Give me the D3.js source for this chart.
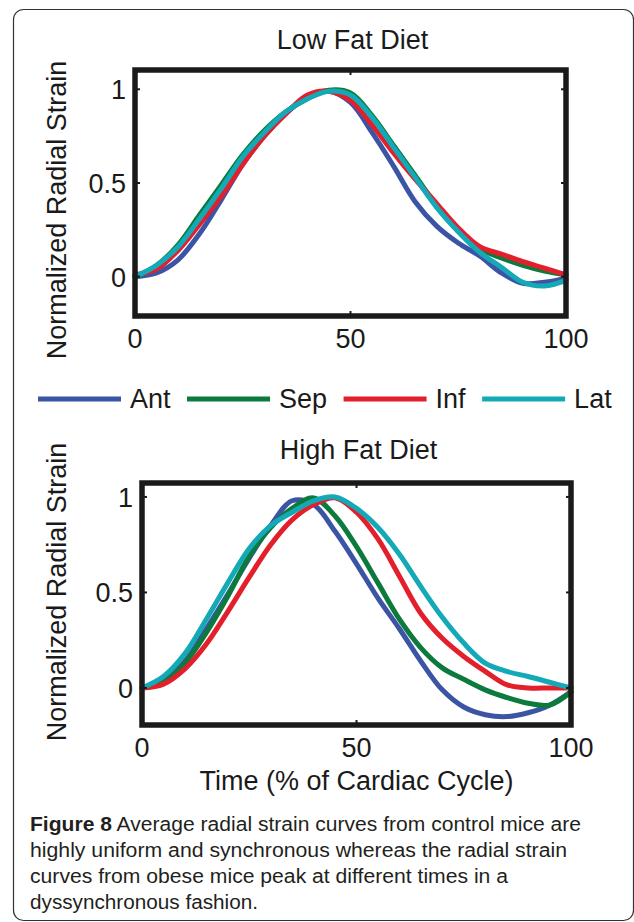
<!DOCTYPE html>
<html>
<head>
<meta charset="utf-8">
<script src="https://cdn.jsdelivr.net/npm/d3@7"></script>
<style>
  body { margin: 0; background: #fff; }
  svg { display: block; }
</style>
</head>
<body>
<svg width="634" height="922"></svg>
<script>
// data (time in % of cardiac cycle)
var timePct = [0, 5, 10, 15, 20, 25, 30, 35, 40, 45, 50, 55, 60, 65, 70, 75, 80, 85, 90, 95, 100];
var seriesNames = ["Ant", "Sep", "Inf", "Lat"];
var seriesColors = ["#3b54a4", "#0c7a3d", "#e41f2c", "#13a9b6"];

// Low Fat Diet
var lowAnt = [0, 0.02, 0.09, 0.23, 0.41, 0.60, 0.75, 0.87, 0.96, 0.99, 0.93, 0.77, 0.59, 0.40, 0.27, 0.18, 0.11, 0.02, -0.035, -0.03, -0.01];
var lowSep = [0, 0.06, 0.17, 0.33, 0.49, 0.65, 0.78, 0.88, 0.95, 0.995, 0.98, 0.86, 0.70, 0.54, 0.38, 0.25, 0.15, 0.10, 0.06, 0.03, 0.01];
var lowInf = [0.01, 0.04, 0.14, 0.28, 0.43, 0.60, 0.75, 0.87, 0.97, 0.99, 0.94, 0.81, 0.66, 0.52, 0.39, 0.26, 0.16, 0.12, 0.08, 0.045, 0.01];
var lowLat = [0, 0.06, 0.16, 0.31, 0.47, 0.64, 0.77, 0.88, 0.95, 0.99, 0.97, 0.85, 0.69, 0.53, 0.37, 0.24, 0.13, 0.05, -0.03, -0.05, -0.02];

// High Fat Diet
var highAnt = [0, 0.035, 0.14, 0.31, 0.49, 0.68, 0.85, 0.98, 0.96, 0.82, 0.65, 0.47, 0.31, 0.14, -0.01, -0.10, -0.14, -0.15, -0.13, -0.09, -0.02];
var highSep = [0, 0.03, 0.13, 0.29, 0.48, 0.69, 0.84, 0.94, 0.995, 0.90, 0.74, 0.55, 0.36, 0.21, 0.105, 0.045, -0.01, -0.05, -0.08, -0.09, -0.02];
var highInf = [0, 0.02, 0.10, 0.23, 0.40, 0.58, 0.75, 0.88, 0.96, 0.995, 0.92, 0.78, 0.585, 0.39, 0.26, 0.165, 0.087, 0.017, 0, 0, 0];
var highLat = [0, 0.06, 0.18, 0.36, 0.55, 0.73, 0.85, 0.92, 0.98, 1.0, 0.94, 0.84, 0.70, 0.53, 0.37, 0.235, 0.13, 0.087, 0.06, 0.03, 0];

var xTicks = [0, 50, 100];
var yTicks = [0, 0.5, 1];

var svg = d3.select("svg");
var font = "'Liberation Sans', Arial, Helvetica, sans-serif";
var ink = "#1a1a1a";

// figure box
svg.append("rect")
    .attr("x", 13.5).attr("y", 9.5)
    .attr("width", 620).attr("height", 911)
    .attr("rx", 10)
    .attr("fill", "none")
    .attr("stroke", "#333")
    .attr("stroke-width", 1.2);

function drawPanel(p) {
    var x = d3.scaleLinear().domain([0, 100]).range([p.left, p.right]);
    var y = d3.scaleLinear().domain(p.yDomain).range([p.bottom, p.top]);
    var g = svg.append("g");

    // title
    g.append("text")
        .attr("x", (p.left + p.right) / 2 + 2)
        .attr("y", p.titleY)
        .attr("text-anchor", "middle")
        .attr("font-family", font)
        .attr("font-size", 27)
        .attr("fill", ink)
        .text(p.title);

    // curves
    var line = d3.line()
        .x(function (d) { return x(d[0]); })
        .y(function (d) { return y(d[1]); })
        .curve(d3.curveCatmullRom.alpha(0.5));

    p.series.forEach(function (vals, i) {
        g.append("path")
            .attr("d", line(timePct.map(function (t, j) { return [t, vals[j]]; })))
            .attr("fill", "none")
            .attr("stroke", seriesColors[i])
            .attr("stroke-width", 5)
            .attr("stroke-linejoin", "round")
            .attr("stroke-linecap", "round");
    });

    // ticks inside the box
    xTicks.forEach(function (t) {
        g.append("line").attr("x1", x(t)).attr("x2", x(t))
            .attr("y1", p.bottom).attr("y2", p.bottom - 5)
            .attr("stroke", ink).attr("stroke-width", 2);
        g.append("line").attr("x1", x(t)).attr("x2", x(t))
            .attr("y1", p.top).attr("y2", p.top + 5)
            .attr("stroke", ink).attr("stroke-width", 2);
    });
    yTicks.forEach(function (v) {
        g.append("line").attr("x1", p.left).attr("x2", p.left + 5)
            .attr("y1", y(v)).attr("y2", y(v))
            .attr("stroke", ink).attr("stroke-width", 2);
        g.append("line").attr("x1", p.right).attr("x2", p.right - 5)
            .attr("y1", y(v)).attr("y2", y(v))
            .attr("stroke", ink).attr("stroke-width", 2);
    });

    // frame
    g.append("rect")
        .attr("x", p.left).attr("y", p.top)
        .attr("width", p.right - p.left).attr("height", p.bottom - p.top)
        .attr("fill", "none")
        .attr("stroke", ink)
        .attr("stroke-width", 5.5);

    // tick labels
    g.selectAll(".xl").data(xTicks).enter().append("text")
        .attr("x", function (d) { return x(d); })
        .attr("y", p.bottom + 32)
        .attr("text-anchor", "middle")
        .attr("font-family", font).attr("font-size", 27).attr("fill", ink)
        .text(function (d) { return d; });

    g.selectAll(".yl").data(yTicks).enter().append("text")
        .attr("x", p.left - 9)
        .attr("y", function (d) { return y(d) + 10; })
        .attr("text-anchor", "end")
        .attr("font-family", font).attr("font-size", 27).attr("fill", ink)
        .text(function (d) { return d; });

    // y label
    g.append("text")
        .attr("transform", "translate(66," + p.labelY + ") rotate(-90)")
        .attr("text-anchor", "middle")
        .attr("font-family", font).attr("font-size", 27).attr("fill", ink)
        .text("Normalized Radial Strain");

    if (p.xLabel) {
        g.append("text")
            .attr("x", (p.left + p.right) / 2)
            .attr("y", p.bottom + 65)
            .attr("text-anchor", "middle")
            .attr("font-family", font).attr("font-size", 27).attr("fill", ink)
            .text(p.xLabel);
    }
}

drawPanel({
    title: "Low Fat Diet", titleY: 49,
    left: 135, right: 566, top: 70, bottom: 316,
    yDomain: [-0.21, 1.103], labelY: 210,
    series: [lowAnt, lowSep, lowInf, lowLat]
});

drawPanel({
    title: "High Fat Diet", titleY: 459,
    left: 142, right: 571, top: 483, bottom: 725,
    yDomain: [-0.194, 1.073], labelY: 592,
    series: [highAnt, highSep, highInf, highLat],
    xLabel: "Time (% of Cardiac Cycle)"
});

// legend
var lx = 38;
seriesNames.forEach(function (name, i) {
    svg.append("line")
        .attr("x1", lx).attr("x2", lx + 83)
        .attr("y1", 399).attr("y2", 399)
        .attr("stroke", seriesColors[i])
        .attr("stroke-width", 5);
    var t = svg.append("text")
        .attr("x", lx + 92).attr("y", 408)
        .attr("font-family", font).attr("font-size", 27).attr("fill", ink)
        .text(name);
    lx += 92 + t.node().getComputedTextLength() + 16.5;
});

// caption
var captionLines = [
    ["Figure 8", " Average radial strain curves from control mice are", 551],
    ["", "highly uniform and synchronous whereas the radial strain", 537],
    ["", "curves from obese mice peak at different times in a", 478],
    ["", "dyssynchronous fashion.", 228]
];
captionLines.forEach(function (c, i) {
    var t = svg.append("text")
        .attr("x", 30).attr("y", 831 + i * 26)
        .attr("font-family", "'Liberation Sans Narrow', 'Liberation Sans', Arial, sans-serif")
        .attr("font-size", 20)
        .attr("fill", "#231f20")
        .attr("textLength", c[2])
        .attr("lengthAdjust", "spacingAndGlyphs");
    if (c[0]) t.append("tspan").attr("font-weight", "bold").text(c[0]);
    t.append("tspan").text(c[1]);
});
</script>
</body>
</html>
